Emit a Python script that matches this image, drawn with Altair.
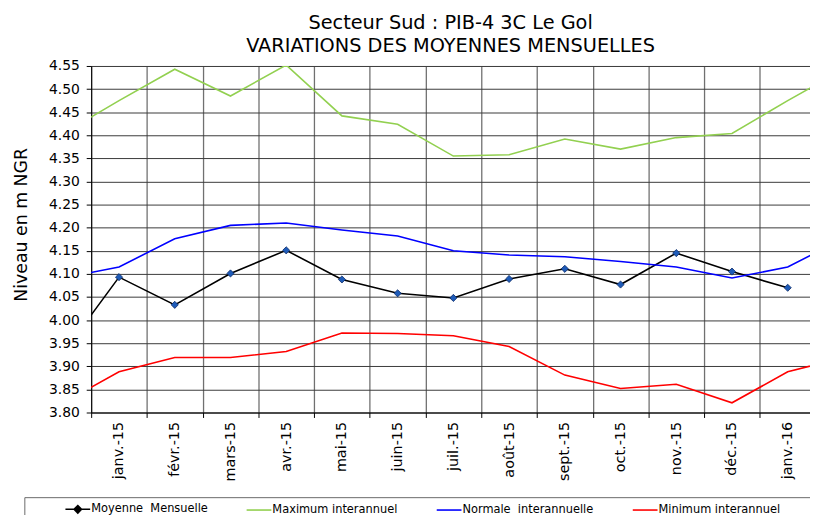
import altair as alt
import pandas as pd

# ---- data ----
# month index: -1 = déc.-14, 0 = janv.-15, ..., 12 = janv.-16, 13 = févr.-16
tick_labels = ["janv.-15", "févr.-15", "mars-15", "avr.-15", "mai-15", "juin-15",
               "juil.-15", "août-15", "sept.-15", "oct.-15", "nov.-15", "déc.-15", "janv.-16"]

series_names = ["Moyenne\u00a0 Mensuelle", "Maximum interannuel",
                "Normale\u00a0 interannuelle", "Minimum interannuel"]
series_colors = ["#000000", "#92D050", "#0000FF", "#FF0000"]

# Dec-14 .. Jan-16
moyenne = [3.929, 4.093, 4.033, 4.101, 4.151, 4.088, 4.058, 4.048, 4.089, 4.111,
           4.077, 4.145, 4.105, 4.070]
# Dec-14 .. Feb-16
maximum = [4.404, 4.475, 4.543, 4.485, 4.552, 4.442, 4.424, 4.355, 4.358, 4.392,
           4.370, 4.395, 4.404, 4.475, 4.543]
normale = [4.091, 4.115, 4.176, 4.205, 4.210, 4.195, 4.182, 4.150, 4.141, 4.137,
           4.127, 4.115, 4.091, 4.115, 4.176]
minimum = [3.821, 3.888, 3.919, 3.919, 3.932, 3.972, 3.971, 3.966, 3.943, 3.881,
           3.852, 3.861, 3.821, 3.888, 3.919]

rows = []
for name, vals in zip(series_names, [moyenne, maximum, normale, minimum]):
    for i, v in enumerate(vals):
        rows.append({"idx": i - 1, "serie": name, "niveau": v})
df = pd.DataFrame(rows)

FONT = "DejaVu Sans"
PLOT_W, PLOT_H = 726, 350
X_MIN, X_MAX = -0.5, 12.4
half_cat = PLOT_W / (X_MAX - X_MIN) / 2
MARKER_BLUE = "#1E5BB8"

y_ticks = [round(3.80 + 0.05 * k, 2) for k in range(16)]
x_bounds = [k - 0.5 for k in range(13)]
label_expr = "[" + ",".join("'%s'" % t for t in tick_labels) + "][round(datum.value + 0.5)]"

x_enc = alt.X(
    "idx:Q",
    scale=alt.Scale(domain=[X_MIN, X_MAX], nice=False, zero=False),
    axis=alt.Axis(
        values=x_bounds, labelExpr=label_expr, labelAngle=-90, labelOffset=half_cat,
        labelFont=FONT, labelFontSize=14.5, labelColor="black", labelPadding=4,
        labelOverlap=False, labelFlush=False, tickSize=5, tickColor="black",
        domainColor="black", grid=True, gridColor="#707070", gridWidth=1.3, title=None,
    ),
)
y_enc = alt.Y(
    "niveau:Q",
    scale=alt.Scale(domain=[3.80, 4.55], nice=False, zero=False),
    axis=alt.Axis(
        values=y_ticks, format=".2f", labelFont=FONT, labelFontSize=14, labelColor="black",
        labelPadding=7, tickSize=5, tickColor="black", domainColor="black",
        grid=True, gridColor="#3a3a3a", gridWidth=1,
        title="Niveau en m NGR", titleFont=FONT, titleFontSize=17.5, titleFontWeight="normal",
        titleColor="black", titleAngle=-90, titleX=-70, titleY=160, titleBaseline="middle",
        titleAlign="center",
    ),
)

leg = alt.Legend(
    orient="none", legendX=-27, legendY=434, direction="horizontal", title=None,
    symbolSize=625, labelFont=FONT, labelFontSize=11.5, labelColor="black", labelOffset=0,
    columnPadding=35, symbolStrokeWidth=1.6, padding=0,
)

lines = alt.Chart(df).mark_line(clip=True, strokeWidth=1.6).encode(
    x=x_enc, y=y_enc,
    color=alt.Color("serie:N", scale=alt.Scale(domain=series_names, range=series_colors), legend=leg),
)

points = alt.Chart(df).transform_filter(
    alt.FieldEqualPredicate(field="serie", equal=series_names[0])
).mark_point(shape="diamond", filled=True, fill=MARKER_BLUE, stroke="#0B2A66", strokeWidth=0.8,
             size=52, opacity=1, clip=True).encode(x=x_enc, y=y_enc)

# legend symbols: a line for every series, with a (solid) diamond on the "Moyenne" one
path_moy = ("M-1,0H1M0,-0.3L0.3,0L0,0.3L-0.3,0Z"
            "M0,-0.18L0.18,0L0,0.18L-0.18,0ZM0,-0.08L0.08,0L0,0.08L-0.08,0Z")
path_line = "M-1,0H1"
legend_layer = alt.Chart(df).transform_filter("datum.idx == -1").mark_point(
    opacity=1, strokeWidth=1.6, clip=True, stroke="black"
).encode(
    x=x_enc, y=y_enc,
    shape=alt.Shape("serie:N", scale=alt.Scale(domain=series_names,
                    range=[path_moy, path_line, path_line, path_line]), legend=leg),
)

box = alt.Chart(pd.DataFrame({"a": [0]})).mark_rect(
    fillOpacity=0, stroke="#6a6a6a", strokeWidth=1
).encode(x=alt.value(-67), x2=alt.value(760), y=alt.value(436), y2=alt.value(480))

chart = alt.layer(lines, points, legend_layer, box).properties(
    width=PLOT_W, height=PLOT_H,
    title=alt.TitleParams(
        text=["Secteur Sud : PIB-4 3C Le Gol", "VARIATIONS DES MOYENNES MENSUELLES"],
        font=FONT, fontSize=19.5, fontWeight="normal", color="black", lineHeight=22.5,
        anchor="middle", offset=3,
    ),
    autosize=alt.AutoSizeParams(type="none"),
    padding={"left": 84, "top": 56, "right": 0, "bottom": 106},
).configure_view(strokeWidth=0).configure(background="white")

chart.save("out.html", embed_options={"renderer": "svg", "actions": False})
